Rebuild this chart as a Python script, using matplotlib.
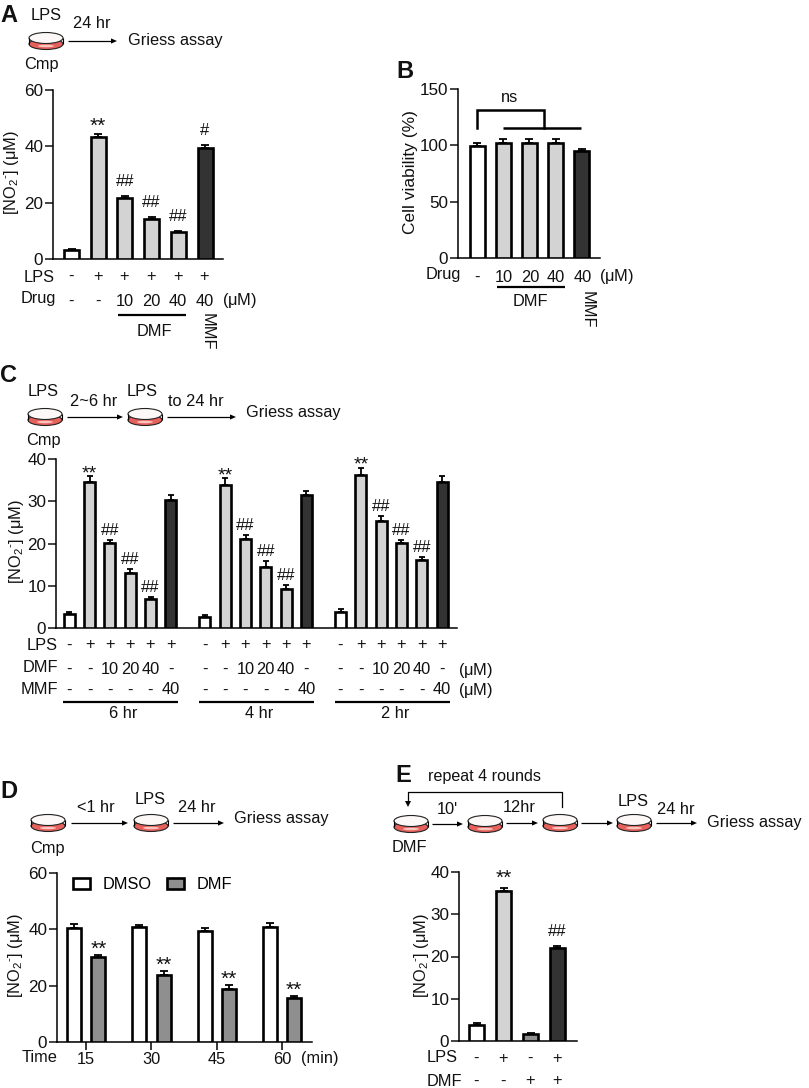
import numpy as np
import matplotlib
matplotlib.use("Agg")
from matplotlib import pyplot as plt
from matplotlib.patches import Ellipse, Polygon

W, H = 809, 1088
plt.rcParams['font.family'] = ['Liberation Sans', 'DejaVu Sans']
plt.rcParams['mathtext.fontset'] = 'custom'
plt.rcParams['mathtext.rm'] = 'Liberation Sans'
plt.rcParams['mathtext.it'] = 'Liberation Sans'
plt.rcParams['mathtext.default'] = 'regular'

WHITE = '#ffffff'
LIGHT = '#d3d3d3'
MID = '#8f8f8f'
DARK = '#333333'
FS = 11.8

NO2 = r'[NO$_2$$^{\text{-}}$] ($\mu$M)'

# panel A
a_vals = [3.2, 43.4, 21.7, 14.2, 9.5, 39.4]
a_errs = [0.4, 1.0, 0.6, 0.8, 0.5, 1.1]
a_cols = [WHITE, LIGHT, LIGHT, LIGHT, LIGHT, DARK]
a_marks = ['', '**', '##', '##', '##', '#']
a_lps = ['-', '+', '+', '+', '+', '+']
a_drug = ['-', '-', '10', '20', '40', '40']

# panel B
b_vals = [99, 102, 102, 102, 95]
b_errs = [3, 4, 4, 4, 2]
b_cols = [WHITE, LIGHT, LIGHT, LIGHT, DARK]
b_drug = ['-', '10', '20', '40', '40']

# panel C
c_vals = [3.3, 34.6, 20.1, 13.1, 6.9, 30.2,
          2.7, 33.8, 21.0, 14.5, 9.3, 31.5,
          3.9, 36.3, 25.3, 20.1, 16.1, 34.6]
c_errs = [0.4, 1.3, 0.8, 0.9, 0.4, 1.2,
          0.3, 1.7, 1.0, 1.4, 0.8, 1.0,
          0.5, 1.6, 1.2, 0.8, 0.8, 1.3]
c_cols = [WHITE, LIGHT, LIGHT, LIGHT, LIGHT, DARK] * 3
c_marks = ['', '**', '##', '##', '##', ''] * 3
c_lps = ['-', '+', '+', '+', '+', '+']
c_dmf = ['-', '-', '10', '20', '40', '-']
c_mmf = ['-', '-', '-', '-', '-', '40']
c_groups = ['6 hr', '4 hr', '2 hr']

# panel D
d_times = ['15', '30', '45', '60']
d_dmso = [40.5, 40.9, 39.4, 40.9]
d_dmso_err = [1.5, 0.7, 1.1, 1.5]
d_dmf = [30.2, 23.9, 18.7, 15.7]
d_dmf_err = [0.8, 1.3, 1.5, 0.8]

# panel E
e_vals = [3.8, 35.4, 1.7, 22.1]
e_errs = [0.5, 0.7, 0.3, 0.3]
e_cols = [WHITE, LIGHT, MID, DARK]
e_marks = ['', '**', '', '##']
e_lps = ['-', '+', '-', '+']
e_dmf = ['-', '-', '+', '+']

fig = plt.figure(figsize=(W / 100, H / 100), dpi=100)

# overlay in pixel coordinates for schemes and labels
ov = fig.add_axes([0, 0, 1, 1], zorder=5)
ov.set_xlim(0, W)
ov.set_ylim(H, 0)
ov.axis('off')
ov.patch.set_alpha(0)


def txt(x, y, s, size=FS, **kw):
    kw.setdefault('ha', 'center')
    kw.setdefault('va', 'center')
    ov.text(x, y, s, fontsize=size, color='#111111', **kw)


def line(x0, y0, x1, y1, lw=1.0):
    ov.plot([x0, x1], [y0, y1], color='black', lw=lw, solid_capstyle='butt')


def arrow(x0, x1, y):
    line(x0, y, x1 - 4, y, 0.9)
    ov.add_patch(Polygon([[x1, y], [x1 - 6, y - 2.6], [x1 - 6, y + 2.6]], color='black', lw=0))


def dish(x, y):
    # x, y is the centre of the dish
    ov.add_patch(Ellipse((x, y + 3), 34, 11, fc='#e8605c', ec='#222222', lw=0.8))
    ov.add_patch(Ellipse((x, y - 3), 34, 11, fc='#fbf8f7', ec='#222222', lw=0.8))
    ov.add_patch(Ellipse((x, y + 5), 16, 2.5, fc='#f7c5bd', ec='none'))
    line(x - 17, y - 3, x - 17, y + 3, 0.8)
    line(x + 17, y - 3, x + 17, y + 3, 0.8)


def make_axes(left, right, top, bottom, ymax, ticks):
    ax = fig.add_axes([left / W, 1 - bottom / H, (right - left) / W, (bottom - top) / H])
    ax.set_xlim(left, right)
    ax.set_ylim(0, ymax)
    ax.set_yticks(ticks)
    ax.set_xticks([])
    for s in ['top', 'right']:
        ax.spines[s].set_visible(False)
    for s in ['left', 'bottom']:
        ax.spines[s].set_linewidth(1.1)
    ax.tick_params(axis='y', length=6, width=1.1, labelsize=12.3, pad=1, colors='#111111')
    ax.patch.set_alpha(0)
    return ax


def bars(ax, xs, vals, errs, cols, width):
    ax.bar(xs, vals, width=width, color=cols, edgecolor='black', linewidth=1.9, zorder=3)
    for x, v, e in zip(xs, vals, errs):
        ax.errorbar(x, v, yerr=[[0], [e]], color='black', elinewidth=1.3, capsize=width * 0.2,
                    capthick=1.3, zorder=2)


def ylabel(x, y, s=NO2, size=FS):
    txt(x, y, s, size=size, rotation=90)


def marks(ax, xs, vals, errs, labels, star_px, hash_px, star_size=15, hash_size=12):
    # offsets are from the error bar top to the text baseline, in pixels
    for x, v, e, m in zip(xs, vals, errs, labels):
        if m:
            px = star_px if m == '**' else hash_px
            size = star_size if m == '**' else hash_size
            ax.annotate(m, (x, v + e), xytext=(0, px * 0.72), textcoords='offset points',
                        ha='center', va='baseline', fontsize=size, color='#111111', zorder=6,
                        annotation_clip=False)


# ---- A
txt(9, 15, 'A', 17, weight='bold')
txt(46, 16, 'LPS')
txt(92, 24, '24 hr')
dish(46, 41)
arrow(68, 117, 41)
txt(128, 40, 'Griess assay', ha='left')
txt(41, 64, 'Cmp')

ax = make_axes(53, 223, 90, 259, 60, [0, 20, 40, 60])
xa = 71.5 + 26.7 * np.arange(6)
bars(ax, xa, a_vals, a_errs, a_cols, 15)
marks(ax, xa, a_vals, a_errs, a_marks, 2, 10)
ylabel(12, 173)
txt(39, 277, 'LPS')
txt(38, 299, 'Drug')
for x, l, d in zip(xa, a_lps, a_drug):
    txt(x - 0.5, 276, l)
    txt(x - 0.5, 301, d)
txt(240, 301, r'($\mu$M)')
line(118, 315, 186, 315, 1.6)
txt(154, 332, 'DMF')
txt(207, 332, 'MMF', rotation=-90)

# ---- B
txt(405, 71, 'B', 17, weight='bold')
ax = make_axes(458, 600, 89, 258, 150, [0, 50, 100, 150])
xb = 477 + 26.2 * np.arange(5)
bars(ax, xb, b_vals, b_errs, b_cols, 15)
ylabel(411, 172, 'Cell viability (%)', 12.5)
txt(443, 275, 'Drug')
for x, d in zip(xb, b_drug):
    txt(x + 0.5, 277, d)
txt(617, 277, r'($\mu$M)')
line(497, 287, 565, 287, 1.6)
txt(530, 302, 'DMF')
txt(587, 310, 'MMF', rotation=-90)
txt(510, 97, 'ns')
# bracket above the bars
ov.plot([477, 477, 544, 544], [128, 110, 110, 128], color='black', lw=1.8, solid_joinstyle='miter')
line(503, 128, 581, 128, 1.8)

# ---- C
txt(9, 375, 'C', 17, weight='bold')
txt(43, 392, 'LPS')
txt(94, 402, '2~6 hr')
txt(142, 392, 'LPS')
txt(196, 401, 'to 24 hr')
dish(45, 417)
dish(145, 417)
arrow(67, 123, 417)
arrow(167, 236, 417)
txt(246, 413, 'Griess assay', ha='left')
txt(43, 441, 'Cmp')

ax = make_axes(56, 457, 459, 628, 40, [0, 10, 20, 30, 40])
xc = np.concatenate([69.3 + 20.3 * np.arange(6) + 135.6 * g for g in range(3)])
bars(ax, xc, c_vals, c_errs, c_cols, 11)
marks(ax, xc, c_vals, c_errs, c_marks, -2, 5, star_size=14)
ylabel(17, 542)
txt(42, 646, 'LPS')
txt(40, 667, 'DMF')
txt(39, 689, 'MMF')
for g, name in enumerate(c_groups):
    for i in range(6):
        x = xc[g * 6 + i]
        txt(x, 645, c_lps[i])
        txt(x, 669, c_dmf[i])
        txt(x, 690, c_mmf[i])
    line(63.5 + 135.6 * g, 702, 178.5 + 135.6 * g, 702, 1.6)
    txt(123.5 + 135.6 * g, 714, name)
txt(476, 671, r'($\mu$M)')
txt(476, 691, r'($\mu$M)')

# ---- D
txt(9, 792, 'D', 17, weight='bold')
txt(150, 799, 'LPS')
txt(96, 808, '<1 hr')
txt(197, 808, '24 hr')
dish(48, 823)
dish(151, 823)
arrow(71, 128, 823)
arrow(173, 224, 823)
txt(234, 819, 'Griess assay', ha='left')
txt(47, 848, 'Cmp')

ax = make_axes(57, 312, 873, 1042, 60, [0, 20, 40, 60])
xd = 86 + 65.3 * np.arange(4)
bars(ax, xd - 12, d_dmso, d_dmso_err, [WHITE] * 4, 14)
bars(ax, xd + 12.3, d_dmf, d_dmf_err, [MID] * 4, 14)
marks(ax, xd + 12.3, d_dmf, d_dmf_err, ['**'] * 4, 0, 0)
ax.set_xticks(xd)
ax.set_xticklabels([])
ax.tick_params(axis='x', length=6, width=1.1)
ylabel(16, 956)
ax.bar([0], [0], color=WHITE, edgecolor='black', linewidth=1.9, label='DMSO')
ax.bar([0], [0], color=MID, edgecolor='black', linewidth=1.9, label='DMF')
ax.legend(loc='upper left', bbox_to_anchor=(0.063, 0.975), ncol=2, frameon=False, fontsize=FS,
          borderpad=0, borderaxespad=0, handlelength=1.05, handleheight=0.62, handletextpad=0.75,
          columnspacing=0.95)
txt(40, 1058, 'Time')
for x, t in zip(xd, d_times):
    txt(x, 1059, t)
txt(320, 1058, '(min)')

# ---- E
txt(403, 776, 'E', 17, weight='bold')
txt(485, 776, 'repeat 4 rounds', 11.6)
ov.plot([562, 562, 408, 408], [807, 792, 792, 802], color='black', lw=0.9)
ov.add_patch(Polygon([[408, 807], [405, 801], [411, 801]], color='black', lw=0))
txt(447, 809, "10'")
txt(519, 808, '12hr')
txt(633, 801, 'LPS')
txt(676, 810, '24 hr')
dish(411, 824)
dish(485, 824)
dish(560, 823)
dish(634, 823)
arrow(432, 463, 824)
arrow(506, 538, 823)
arrow(581, 613, 823)
arrow(656, 697, 823)
txt(707, 822, 'Griess assay', ha='left')
txt(409, 847, 'DMF')

ax = make_axes(459, 577, 872, 1041, 40, [0, 10, 20, 30, 40])
xe = 477 + 26.8 * np.arange(4)
bars(ax, xe, e_vals, e_errs, e_cols, 15)
marks(ax, xe, e_vals, e_errs, e_marks, 5, 10)
ylabel(422, 956)
txt(442, 1058, 'LPS')
txt(444, 1081, 'DMF')
for x, l, d in zip(xe, e_lps, e_dmf):
    txt(x - 0.5, 1058, l)
    txt(x - 0.5, 1081, d)

fig.savefig('out.png', dpi=100)
